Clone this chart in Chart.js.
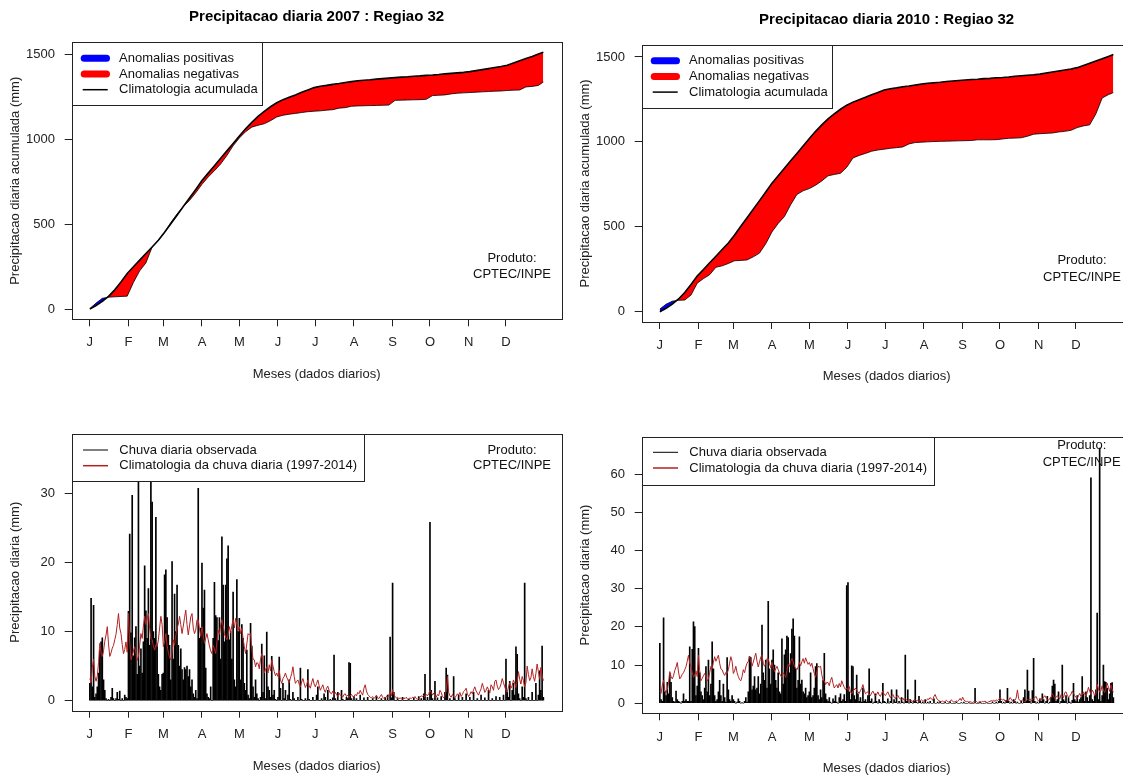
<!DOCTYPE html>
<html lang="pt">
<head>
<meta charset="utf-8">
<title>Precipitacao diaria : Regiao 32</title>
<style>
  html, body { margin: 0; padding: 0; background: #fff; overflow: hidden; width: 1123px; height: 776px; }
  canvas { position: absolute; }
</style>
</head>
<body>
<canvas id="acc2007" width="570" height="390" style="left:0;top:0"></canvas>
<canvas id="acc2010" width="570" height="390" style="left:570px;top:0"></canvas>
<canvas id="day2007" width="570" height="386" style="left:0;top:390px"></canvas>
<canvas id="day2010" width="570" height="386" style="left:570px;top:390px"></canvas>

<script src="https://cdn.jsdelivr.net/npm/chart.js"></script>
<script>
// month ticks (day of year) and labels
const monthDays = [1, 32, 60, 91, 121, 152, 182, 213, 244, 274, 305, 335];
const monthLabels = ['J', 'F', 'M', 'A', 'M', 'J', 'J', 'A', 'S', 'O', 'N', 'D'];

const cumDays = [1, 6, 11, 16, 21, 26, 31, 36, 41, 46, 51, 56, 61, 66, 71, 76, 81, 86, 91, 96,
  101, 106, 111, 116, 121, 126, 131, 136, 141, 146, 151, 156, 161, 166, 171, 176, 181, 186, 191, 196,
  201, 206, 211, 216, 221, 226, 231, 236, 241, 246, 251, 256, 261, 266, 271, 276, 281, 286, 291, 296,
  301, 306, 311, 316, 321, 326, 331, 336, 341, 346, 351, 356, 361, 365];

// climatologia acumulada (mm)
const climCum = [0, 20, 45, 75, 113, 160, 210, 249, 288, 327, 366, 405, 452, 503, 553, 604, 654, 705, 757, 801,
  845, 889, 932, 976, 1020, 1062, 1100, 1135, 1165, 1192, 1216, 1234, 1248, 1262, 1277, 1291, 1305, 1313, 1318, 1324,
  1329, 1335, 1340, 1345, 1348, 1351, 1355, 1358, 1361, 1364, 1367, 1369, 1372, 1374, 1377, 1379, 1382, 1386, 1389, 1392,
  1395, 1399, 1405, 1411, 1417, 1423, 1429, 1437, 1450, 1463, 1476, 1489, 1503, 1514];

// observado acumulado 2007 (mm)
const obsCum2007 = [2.5, 35, 63, 70, 72, 74, 76, 157, 225, 272, 365, 405, 452, 510, 560, 604, 640, 685, 735, 778,
  815, 855, 905, 962, 1008, 1045, 1072, 1083, 1092, 1110, 1132, 1142, 1148, 1153, 1158, 1163, 1166, 1168, 1172, 1175,
  1184, 1187, 1195, 1197, 1198, 1199, 1200, 1201, 1202, 1230, 1231, 1232, 1233, 1234, 1236, 1258, 1260, 1262, 1268, 1272,
  1274, 1276, 1278, 1280, 1282, 1284, 1285, 1288, 1290, 1291, 1309, 1312, 1318, 1338];

// observado acumulado 2010 (mm)
const obsCum2010 = [15.7, 44, 62, 67, 69, 98, 168, 195, 218, 262, 270, 284, 300, 302, 305, 323, 345, 400, 470, 520,
  560, 630, 690, 712, 725, 745, 770, 800, 808, 815, 850, 905, 920, 932, 945, 952, 957, 962, 966, 970,
  988, 996, 998, 1000, 1002, 1003, 1004, 1005, 1006, 1007, 1008, 1012, 1012, 1012, 1013, 1017, 1021, 1022, 1024, 1033,
  1045, 1048, 1050, 1052, 1058, 1062, 1068, 1084, 1094, 1100, 1165, 1258, 1278, 1290];

// climatologia da chuva diaria 1997-2014 (mm/dia), Jan..Dec
const climDaily = [
  3.2, 2.6, 4.8, 6.0, 3.5, 2.8, 3.6, 5.5, 8.3, 7.0, 6.4, 7.2, 8.6, 9.5, 10.7, 8.2, 6.4, 6.9, 7.6, 8.0, 8.8, 9.6, 11.0, 12.6, 10.5, 9.7, 8.1, 6.8, 7.4, 8.5, 7.0,
  12.6, 8.5, 5.9, 6.5, 7.2, 7.8, 6.9, 5.8, 6.4, 8.0, 9.7, 9.0, 10.8, 12.2, 11.0, 11.8, 12.6, 10.5, 9.0, 8.8, 7.9, 7.3, 8.1, 7.8, 8.8, 10.5, 12.2, 11.0,
  7.8, 8.5, 9.7, 8.0, 7.0, 6.2, 5.9, 7.0, 8.8, 8.0, 9.5, 10.5, 11.0, 12.2, 11.0, 9.7, 10.8, 12.0, 13.1, 11.0, 9.5, 10.8, 12.1, 12.6, 10.5, 9.7, 10.2, 11.7, 11.7, 10.4, 9.3,
  10.7, 9.5, 8.3, 9.0, 9.7, 8.8, 7.9, 7.2, 6.8, 8.0, 7.5, 6.8, 8.5, 10.2, 9.6, 11.0, 11.7, 10.9, 9.7, 9.2, 8.8, 9.5, 10.7, 9.8, 10.9, 11.7, 10.5, 11.9, 11.0, 10.2,
  10.7, 9.7, 10.5, 9.0, 7.8, 6.8, 8.2, 9.7, 9.5, 9.7, 7.5, 6.0, 5.9, 4.9, 5.5, 5.4, 4.6, 6.0, 6.8, 5.2, 4.0, 4.5, 4.9, 4.0, 5.2, 4.3, 5.9, 5.0, 4.2, 3.6, 4.0,
  3.5, 4.4, 3.0, 2.5, 3.2, 3.5, 4.0, 3.4, 3.0, 2.6, 3.3, 3.9, 4.9, 3.5, 2.5, 2.8, 3.0, 2.4, 2.0, 2.7, 3.2, 2.5, 1.9, 2.3, 3.0, 2.2, 1.8, 2.6, 3.2, 2.4,
  2.0, 2.5, 3.0, 2.2, 1.5, 1.9, 2.3, 1.6, 1.2, 1.8, 2.1, 1.5, 1.1, 1.0, 1.4, 0.8, 1.2, 0.9, 0.6, 1.1, 0.8, 0.7, 0.5, 0.9, 1.0, 0.6, 0.8, 0.5, 0.7, 0.9, 0.6,
  0.6, 0.9, 0.7, 1.2, 1.0, 1.5, 1.1, 0.8, 1.8, 2.3, 1.4, 0.9, 0.7, 0.5, 0.4, 0.6, 0.3, 0.5, 0.8, 0.4, 0.3, 0.6, 0.9, 0.5, 0.3, 0.4, 0.6, 0.5, 0.8, 1.3, 0.7,
  1.6, 0.9, 0.6, 0.4, 0.5, 0.3, 0.4, 0.3, 0.2, 0.4, 0.3, 0.5, 0.2, 0.3, 0.4, 0.3, 0.5, 0.4, 0.6, 0.3, 0.2, 0.4, 0.5, 0.7, 0.6, 0.8, 0.5, 0.9, 0.7, 1.0,
  1.5, 1.2, 0.8, 1.1, 0.6, 0.5, 0.9, 0.7, 1.5, 1.2, 0.6, 0.4, 0.8, 1.4, 3.5, 1.2, 0.7, 0.5, 0.9, 0.6, 0.4, 0.7, 1.0, 0.8, 1.2, 0.6, 0.9, 1.3, 1.5, 1.8, 1.0,
  0.6, 0.9, 1.3, 1.0, 1.6, 2.0, 1.4, 1.1, 0.8, 1.3, 1.7, 2.5, 1.9, 1.2, 1.5, 2.0, 1.6, 1.1, 2.3, 2.0, 1.5, 2.8, 3.0, 2.1, 1.6, 1.9, 2.4, 3.2, 2.6, 2.0,
  1.5, 1.2, 2.0, 2.6, 1.8, 2.2, 3.0, 2.5, 1.9, 2.8, 4.2, 3.1, 2.4, 3.5, 2.9, 2.0, 2.6, 5.0, 3.8, 2.9, 3.3, 4.6, 3.5, 2.8, 3.9, 5.3, 4.2, 3.1, 4.8, 3.6, 2.9
];

// chuva diaria observada 2007 (mm), Jan..Dec
const obs2007 = [
  2.5, 14.8, 2, 13.8, 0.5, 1, 2, 4, 7.3, 8.5, 9.1, 3, 1.5, 0.3, 0, 0.2, 0, 0.5, 1.8, 0.3, 0, 0.3, 1.2, 0.2, 1.4, 0, 0.3, 0, 0.8, 0.5, 0.3,
  12.9, 24.1, 9.8, 29.7, 6.5, 9.1, 10.7, 3.8, 36, 5, 7.5, 4, 8.5, 19.5, 13, 9, 16.2, 8, 34, 28.7, 10, 9, 26.5, 8, 3.8, 2, 1.5, 3.8,
  4, 18.2, 18.9, 12, 9.5, 8, 3, 20.1, 6, 15.4, 10, 16.7, 8, 5, 7.5, 4.5, 3, 4.8, 4.5, 5, 3.5, 4.5, 2, 3, 1, 0.5, 1.5, 0.3, 30.7, 9, 10.5,
  19.9, 13.4, 16, 4.7, 1, 0.5, 0.3, 2, 0, 9, 17.1, 12.3, 12, 8.7, 12, 6, 23.7, 16.7, 8.5, 16.7, 20.5, 22.4, 8.8, 10, 6, 15.7, 3, 2, 17.5, 10,
  11.9, 3, 11, 9, 2.5, 1.5, 7.3, 0.8, 0.3, 11.2, 7.9, 2, 0.5, 3, 1, 0.3, 0, 0.5, 8.2, 1.2, 6.5, 0.3, 9.9, 2, 1.5, 0.5, 6.4, 0.8, 1.5, 0.2, 0,
  0.5, 6.3, 1.8, 0, 2.5, 0.3, 1.5, 0, 0.8, 3, 0.2, 0, 1.2, 0.3, 0, 0, 0.5, 0, 4.7, 0.2, 0, 0, 0.3, 0, 4.5, 0.2, 0, 0, 0.5, 0,
  0, 0.8, 2, 0, 0, 0.3, 0, 1, 0.5, 0, 1.5, 0, 0.2, 0, 0.4, 6.6, 0.3, 0, 1.2, 0, 0, 1.5, 0.2, 0, 0, 0.5, 0.3, 5.5, 5.4, 0.3, 0,
  0.6, 0, 0.3, 0, 0, 0.8, 0, 0, 0.4, 0, 0, 0.5, 0, 0, 0, 0.3, 0, 0, 0.6, 0, 0, 0, 0.3, 0, 0, 0.5, 0, 0.8, 0, 9.2, 0.4,
  17, 1.2, 0, 0, 0.3, 0, 0, 0, 0.5, 0, 0, 0, 0, 0.2, 0, 0, 0, 0.4, 0, 0, 0, 0.6, 0, 0.3, 0, 1, 3.8, 0, 0.5, 0,
  25.8, 1.5, 0.3, 0, 2.8, 0, 0.4, 0, 0, 0.6, 0, 0, 1.2, 4.7, 3.7, 0, 0.3, 0, 0, 3.5, 0.3, 0, 0, 0.8, 0, 0, 0.5, 0, 0, 1, 0,
  0, 0.5, 0, 0, 1.2, 0, 0, 0.3, 0, 0, 0.8, 0, 0, 0.4, 0, 0, 1.5, 0, 0, 0.3, 0, 0, 0.6, 0, 0, 0.5, 0, 0, 0.8, 0,
  6, 1.2, 0.5, 2.8, 0, 1.5, 2.5, 0.8, 7.8, 6.7, 1, 0.3, 0, 2, 0.5, 17, 0.3, 0, 0.5, 0, 0, 1.2, 0, 0, 2.5, 0, 0.8, 4.3, 1.5, 7.9, 0.5
];

// chuva diaria observada 2010 (mm), Jan..Dec
const obs2010 = [
  15.7, 1, 0.5, 22.4, 3, 2, 5.5, 2.5, 7.8, 5.5, 1.5, 0.5, 0.3, 3.2, 1, 0.5, 0.3, 0, 0.5, 2.5, 0.5, 1, 0.5, 0.5, 14.8, 0.5, 14.1, 21.3, 20.1, 2, 4.5,
  14.4, 8, 3, 2, 1, 4, 9.6, 3, 11.3, 2, 5, 16.1, 9, 2, 0.5, 1, 3, 6, 2, 0.5, 5, 1.5, 0.3, 12, 3.5, 1, 0.5, 2,
  1, 0.5, 0, 0.3, 1.2, 0.5, 0, 0.2, 0, 0.5, 1.5, 0.3, 3, 12.2, 12, 3.5, 4.5, 7, 3.5, 4, 7, 2.5, 5, 20.5, 8, 6, 11.3, 4, 26.7, 9, 5,
  11.3, 14, 10, 6, 4, 8, 3, 2.5, 16.9, 5, 12.7, 14, 17.6, 17.2, 8, 13, 19.4, 22.1, 17.6, 9, 4, 6, 17.4, 5, 6.1, 3, 2.5, 4, 1.5, 2,
  3, 8, 1.5, 2, 4, 9.6, 10.4, 2, 1, 3.5, 1.5, 6, 13.1, 2.5, 1, 0.5, 1.5, 0.3, 0, 1.2, 0.5, 2, 0.3, 0, 1.5, 2.5, 0.5, 1, 2.3, 0.5, 30.8,
  31.6, 3, 1, 9.8, 9.6, 2, 1, 7.4, 2.5, 0.5, 1.5, 0.3, 4, 0.5, 1, 0.3, 2, 9, 0.5, 1.2, 0, 0.3, 2.5, 0.5, 0, 1, 0.3, 0, 5.2, 0.5,
  0.3, 0, 1.2, 0, 0.5, 3.5, 0, 1, 0.3, 3.5, 0, 0.5, 0, 1.5, 0.3, 0, 12.6, 0.5, 3.5, 0, 1, 0.3, 0, 0.5, 6.1, 0.3, 0, 1.8, 0.5, 0, 0.3,
  0, 1, 0, 0.3, 0, 0.5, 0, 0, 1.2, 0, 0, 0.3, 0, 0.5, 0, 0, 0, 0.3, 0, 0, 0, 0.4, 0, 0, 0, 0, 0.3, 0, 0, 0, 0.2,
  0, 0.3, 0, 0, 0, 0.2, 0, 0, 0, 0, 3.9, 0, 0, 0, 0.3, 0, 0, 0, 0, 0.2, 0, 0, 0, 0, 0.4, 0, 0, 0.3, 0, 0.5,
  3.5, 0.5, 0, 0.3, 0, 0.8, 3.9, 0.5, 0, 0.3, 0, 1, 0.5, 0, 0.3, 0, 0, 0.6, 0, 1.5, 3.5, 0.5, 8.7, 3.2, 0.5, 0, 3.3, 11.8, 0.5, 0, 0.3,
  0, 1.2, 0.5, 2.5, 1, 0, 0.5, 1.8, 0, 0.3, 1.5, 4.5, 6.1, 5, 0.5, 1, 3, 0, 0.5, 10, 1, 0.5, 2, 0, 1.5, 0.3, 0, 0.8, 5.2, 1,
  0.5, 2, 0.3, 1, 1.5, 7, 2.5, 0.5, 3, 1.5, 0.5, 2, 59, 1, 0.5, 2, 3.5, 23.6, 1, 66.8, 0.5, 2, 10, 5.7, 5.5, 4, 1, 2.5, 5.2, 5.4, 1.5
];

[climDaily, obs2007, obs2010].forEach((a, i) => { if (a.length !== 365) console.error('serie ' + i + ' tem ' + a.length); });

const days = climDaily.map((v, i) => i + 1);
const pts = (xs, ys) => xs.map((x, i) => ({ x: x, y: ys[i] }));

Chart.defaults.font.family = "'Liberation Sans', Arial, Helvetica, sans-serif";
Chart.defaults.font.size = 13;
Chart.defaults.color = '#222';

// box, legend and "Produto" label drawn R-style inside the plot region
const rDecor = {
  id: 'rDecor',
  afterDraw(chart, args, o) {
    const ctx = chart.ctx;
    const a = chart.chartArea;
    const L = Math.round(a.left) + 0.5, T = Math.round(a.top) + 0.5;
    const R = Math.round(a.right) + 0.5, B = Math.round(a.bottom) + 0.5;
    ctx.save();
    const lg = o.legend;
    ctx.fillStyle = '#fff';
    ctx.fillRect(L, T, lg.w, lg.h);
    ctx.strokeStyle = '#222';
    ctx.lineWidth = 1;
    ctx.strokeRect(L, T, Math.round(lg.w), Math.round(lg.h));
    ctx.font = "13px 'Liberation Sans', Arial, sans-serif";
    ctx.textBaseline = 'middle';
    lg.items.forEach((it, i) => {
      const y = a.top + lg.rows[i];
      ctx.beginPath();
      ctx.strokeStyle = it.color;
      ctx.lineWidth = it.lw;
      ctx.lineCap = it.lw > 3 ? 'round' : 'butt';
      ctx.moveTo(a.left + it.x0, y);
      ctx.lineTo(a.left + it.x1, y);
      ctx.stroke();
      ctx.fillStyle = '#111';
      ctx.textAlign = 'left';
      ctx.fillText(it.text, a.left + lg.textX, y);
    });
    ctx.textAlign = 'center';
    ctx.fillStyle = '#111';
    ctx.fillText('Produto:', a.right - o.prod.dx, a.top + o.prod.y1);
    ctx.fillText('CPTEC/INPE', a.right - o.prod.dx, a.top + o.prod.y2);
    ctx.strokeStyle = '#222';
    ctx.lineWidth = 1;
    ctx.strokeRect(L, T, R - L, B - T);
    ctx.restore();
  }
};

function xAxis(height, tickPad, titlePad) {
  return {
    type: 'linear', min: -13.56, max: 379.56, bounds: 'data', offset: false,
    afterBuildTicks: s => { s.ticks = monthDays.map(v => ({ value: v })); },
    afterFit: s => { s.height = height; },
    ticks: { autoSkip: false, maxRotation: 0, padding: tickPad, callback: (v, i) => monthLabels[i] },
    grid: { offset: false, drawOnChartArea: false, drawTicks: true, tickLength: 7, color: '#222' },
    border: { display: false },
    title: { display: true, text: 'Meses (dados diarios)', padding: { top: 0, bottom: titlePad } }
  };
}

function yAxis(min, max, tickVals, title) {
  return {
    type: 'linear', min: min, max: max, bounds: 'data',
    afterBuildTicks: s => { s.ticks = tickVals.map(v => ({ value: v })); },
    afterFit: s => { s.width = 71.7; },
    ticks: { padding: 9.7, callback: v => String(v) },
    grid: { drawOnChartArea: false, drawTicks: true, tickLength: 7, color: '#222' },
    border: { display: false },
    title: { display: true, text: title, padding: { top: 7.2, bottom: 0 } }
  };
}

const accLegend = {
  w: 190, h: 63, textX: 47.3, rows: [16, 31.7, 47.4],
  items: [
    { text: 'Anomalias positivas', color: '#0000ff', lw: 7, x0: 12.5, x1: 34.8 },
    { text: 'Anomalias negativas', color: '#ff0000', lw: 7, x0: 12.5, x1: 34.8 },
    { text: 'Climatologia acumulada', color: '#000', lw: 1.5, x0: 11, x1: 36 }
  ]
};
const dayItems = [
  { text: 'Chuva diaria observada', color: '#000', lw: 1, x0: 11.3, x1: 36.3 },
  { text: 'Climatologia da chuva diaria (1997-2014)', color: '#b22222', lw: 1.5, x0: 11.3, x1: 36.3 }
];

function accChart(id, year, obsCum, titleTop, titleBottom, xh, xTickPad, xTitlePad) {
  new Chart(document.getElementById(id), {
    type: 'line',
    data: {
      datasets: [
        { data: pts(cumDays, climCum), borderColor: '#000', borderWidth: 1.6, pointRadius: 0, fill: false },
        { data: pts(cumDays, obsCum), borderColor: '#000', borderWidth: 0.8, pointRadius: 0,
          fill: { target: 0, above: '#0000ff', below: '#ff0000' } }
      ]
    },
    options: {
      responsive: false, animation: false, events: [], devicePixelRatio: 1,
      layout: { padding: { left: 0, right: 8.5, top: 0, bottom: 0 } },
      scales: {
        x: xAxis(xh, xTickPad, xTitlePad),
        y: yAxis(-60.5, 1572, [0, 500, 1000, 1500], 'Precipitacao diaria acumulada (mm)')
      },
      plugins: {
        legend: { display: false }, tooltip: { enabled: false },
        title: { display: true, text: 'Precipitacao diaria ' + year + ' : Regiao 32', fullSize: false,
          color: '#000', font: { size: 15, weight: 'bold' }, padding: { top: titleTop, bottom: titleBottom } },
        rDecor: { legend: accLegend, prod: { dx: 49.5, y1: 216, y2: 232.3 } }
      }
    },
    plugins: [rDecor]
  });
}

function dayChart(id, obs, ymax, ticks, padTop, xh, xTickPad, xTitlePad, legend, prod) {
  new Chart(document.getElementById(id), {
    type: 'line',
    data: {
      datasets: [
        { type: 'line', data: pts(days, climDaily), borderColor: '#b22222', borderWidth: 1, pointRadius: 0, fill: false },
        { type: 'bar', data: pts(days, obs), backgroundColor: '#000', borderWidth: 0, barThickness: 1 }
      ]
    },
    options: {
      responsive: false, animation: false, events: [], devicePixelRatio: 1,
      layout: { padding: { left: 0, right: 8.5, top: padTop, bottom: 0 } },
      scales: {
        x: xAxis(xh, xTickPad, xTitlePad),
        y: yAxis(ymax[0], ymax[1], ticks, 'Precipitacao diaria (mm)')
      },
      plugins: {
        legend: { display: false }, tooltip: { enabled: false },
        rDecor: { legend: legend, prod: prod }
      }
    },
    plugins: [rDecor]
  });
}

accChart('acc2007', 2007, obsCum2007, 8.3, 16, 70.7, 7.9, 8.2);
accChart('acc2010', 2010, obsCum2010, 11, 15.7, 68, 8.9, 5.5);

dayChart('day2007', obs2007, [-1.45, 38.6], [0, 10, 20, 30], 43.7, 65.3, 8.5, 2.2,
  { w: 291.6, h: 47.3, textX: 47.6, rows: [16.3, 32], items: dayItems },
  { dx: 49.5, y1: 16.3, y2: 32 });
dayChart('day2010', obs2010, [-2.62, 69.8], [0, 10, 20, 30, 40, 50, 60], 46.7, 62.7, 9.2, 0,
  { w: 292, h: 47.6, textX: 47.6, rows: [15.6, 31.3], items: dayItems },
  { dx: 49.8, y1: 9, y2: 25.6 });
</script>
</body>
</html>
